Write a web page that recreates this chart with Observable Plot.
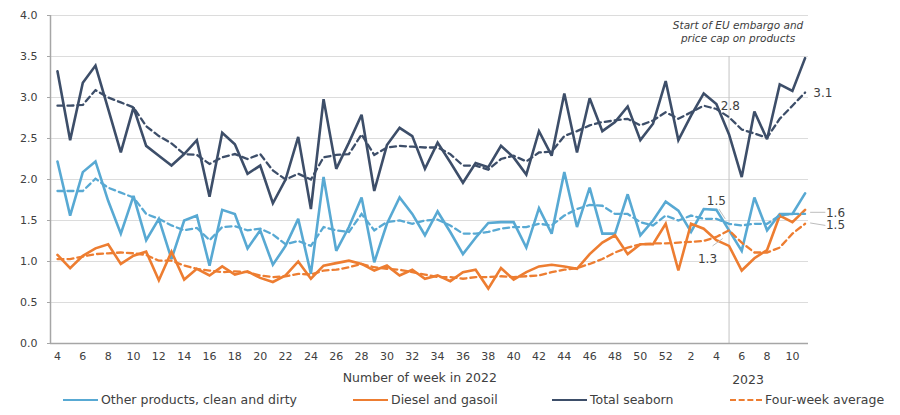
<!DOCTYPE html>
<html>
<head>
<meta charset="utf-8">
<script src="https://cdn.jsdelivr.net/npm/d3@7"></script>
<script src="https://cdn.jsdelivr.net/npm/@observablehq/plot@0.6"></script>
<style>
  body { margin: 0; background: #fff; font-family: "DejaVu Sans", sans-serif; }
  #wrap { width: 900px; height: 415px; position: relative; }
  #legend { position: absolute; left: 0; top: 387px; width: 900px; height: 28px; font-size: 12.5px; color: #404040; }
  .item { position: absolute; top: 5px; display: flex; align-items: center; white-space: nowrap; }
  .sw { width: 35px; height: 0; margin-right: 3px; }
</style>
</head>
<body>
<div id="wrap"><div id="chart"></div><div id="legend"></div></div>
<script>
// Week labels: 2022 weeks 4..52, then 2023 weeks 1..11
const weekLabels = [4,5,6,7,8,9,10,11,12,13,14,15,16,17,18,19,20,21,22,23,24,25,26,27,28,29,30,31,32,33,34,35,36,37,38,39,40,41,42,43,44,45,46,47,48,49,50,51,52,
  1,2,3,4,5,6,7,8,9,10,11];

const otherProducts = [2.22,1.56,2.09,2.22,1.74,1.34,1.80,1.26,1.52,1.03,1.50,1.56,0.95,1.63,1.58,
  1.16,1.38,0.96,1.19,1.52,0.85,2.03,1.13,1.42,1.78,0.99,1.46,1.78,1.58,1.32,
  1.61,1.36,1.09,1.29,1.47,1.48,1.48,1.17,1.65,1.34,2.09,1.42,1.90,1.34,1.34,
  1.82,1.32,1.50,1.73,1.62,1.36,1.64,1.63,1.38,1.13,1.78,1.38,1.58,1.58,1.83];
const otherAvg = [1.86,1.86,1.86,2.01,1.90,1.84,1.78,1.58,1.52,1.44,1.38,1.41,1.26,1.42,1.43,
  1.38,1.40,1.33,1.21,1.25,1.19,1.42,1.38,1.36,1.58,1.38,1.48,1.50,1.46,1.50,
  1.51,1.44,1.34,1.34,1.36,1.40,1.42,1.42,1.46,1.44,1.56,1.64,1.69,1.68,1.58,
  1.58,1.48,1.44,1.56,1.50,1.56,1.52,1.52,1.46,1.44,1.46,1.46,1.56,1.58,1.58];
const diesel = [1.08,0.92,1.07,1.16,1.21,0.97,1.07,1.12,0.77,1.12,0.78,0.91,0.83,0.94,0.84,
  0.88,0.80,0.75,0.83,1.00,0.79,0.95,0.98,1.01,0.97,0.89,0.95,0.83,0.90,0.79,
  0.83,0.76,0.87,0.90,0.67,0.92,0.78,0.87,0.94,0.96,0.94,0.91,1.09,1.23,1.32,
  1.09,1.21,1.21,1.46,0.89,1.46,1.40,1.26,1.19,0.89,1.04,1.14,1.56,1.48,1.63];
const dieselAvg = [1.03,1.03,1.06,1.09,1.10,1.11,1.10,1.08,1.01,1.01,0.95,0.91,0.89,0.87,0.88,
  0.87,0.83,0.81,0.82,0.85,0.84,0.89,0.90,0.93,0.97,0.93,0.91,0.90,0.87,0.84,
  0.81,0.81,0.79,0.81,0.81,0.82,0.81,0.82,0.83,0.87,0.90,0.92,0.97,1.03,1.11,
  1.17,1.21,1.22,1.22,1.23,1.24,1.25,1.30,1.38,1.23,1.11,1.11,1.17,1.34,1.46];
const totalSeaborn = [3.32,2.48,3.18,3.39,2.86,2.33,2.88,2.41,2.29,2.17,2.31,2.48,1.79,2.57,2.43,
  2.07,2.17,1.71,2.00,2.52,1.64,2.98,2.13,2.45,2.79,1.86,2.42,2.63,2.53,2.13,
  2.45,2.21,1.96,2.20,2.15,2.41,2.27,2.06,2.59,2.29,3.05,2.33,2.99,2.59,2.70,
  2.89,2.48,2.68,3.20,2.48,2.78,3.05,2.92,2.55,2.03,2.83,2.49,3.16,3.08,3.48];
const totalAvg = [2.90,2.90,2.91,3.09,3.00,2.94,2.88,2.65,2.53,2.44,2.31,2.30,2.19,2.27,2.31,
  2.25,2.31,2.11,2.00,2.07,2.00,2.27,2.30,2.31,2.55,2.30,2.39,2.41,2.40,2.39,
  2.39,2.31,2.17,2.17,2.12,2.25,2.29,2.22,2.33,2.34,2.53,2.59,2.66,2.70,2.72,
  2.74,2.66,2.72,2.82,2.74,2.82,2.90,2.86,2.76,2.61,2.56,2.51,2.74,2.90,3.06];

const yTicks = [0, 0.5, 1, 1.5, 2, 2.5, 3, 3.5, 4];
const xTickIdx = weekLabels.map((w, i) => i).filter(i => i % 2 === 0);
const embargoWeekIndex = 53; // week 5 of 2023
const embargoNote = "Start of EU embargo and\nprice cap on products";

const valueLabels = [
  {text: "2.8", x: 53.1, y: 2.90},
  {text: "3.1", x: 60.4, y: 3.05},
  {text: "1.5", x: 52.0, y: 1.74},
  {text: "1.3", x: 51.3, y: 1.03},
  {text: "1.6", x: 61.4, y: 1.59},
  {text: "1.5", x: 61.4, y: 1.44}
];
const leaders = [
  {x1: 52.2, y1: 1.64, x2: 52.7, y2: 1.52},
  {x1: 51.7, y1: 1.19, x2: 52.5, y2: 1.28},
  {x1: 59.4, y1: 1.60, x2: 60.6, y2: 1.60},
  {x1: 59.4, y1: 1.47, x2: 60.6, y2: 1.44}
];

const C = {other: "#58a9d3", diesel: "#ed7d31", total: "#3d4e69"};
const series = [
  {name: "Other products, clean and dirty", values: otherProducts, color: C.other, dashed: false},
  {name: "Diesel and gasoil", values: diesel, color: C.diesel, dashed: false},
  {name: "Total seaborn", values: totalSeaborn, color: C.total, dashed: false},
  {name: "Other avg", values: otherAvg, color: C.other, dashed: true},
  {name: "Diesel avg", values: dieselAvg, color: C.diesel, dashed: true},
  {name: "Total avg", values: totalAvg, color: C.total, dashed: true}
];
const toRows = s => s.values.map((v, i) => ({i, v}));

const xDomain = [-0.55, 59.27];

const lineMarks = series.map(s => Plot.line(toRows(s), {
  x: "i", y: "v", stroke: s.color,
  strokeWidth: s.dashed ? 2.3 : 2.6,
  strokeDasharray: s.dashed ? "6,4" : null,
  strokeLinejoin: "miter", strokeMiterlimit: 3
}));

const chart = Plot.plot({
  width: 900, height: 385,
  marginLeft: 50, marginRight: 92, marginTop: 15, marginBottom: 42,
  x: {domain: xDomain},
  y: {domain: [0, 4]},
  style: {fontFamily: "DejaVu Sans, sans-serif", fontSize: "11px", color: "#404040", background: "#fff"},
  marks: [
    Plot.gridY(yTicks, {stroke: "#dcdcdc", strokeOpacity: 1, strokeWidth: 1.2}),
    Plot.ruleX([embargoWeekIndex], {y1: 0, y2: 3.5, stroke: "#c4c4c4", strokeWidth: 1}),
    Plot.axisY(yTicks, {tickFormat: d3.format(".1f"), tickSize: 3, tickPadding: 10, label: null, stroke: "#a6a6a6", fill: "#404040"}),
    Plot.axisX(xTickIdx, {tickFormat: i => String(weekLabels[i]), tickSize: 0, tickPadding: 9, label: null, fill: "#404040"}),
    Plot.ruleX([xDomain[0]], {y1: 0, y2: 4, stroke: "#a6a6a6", strokeWidth: 1.5}),
    Plot.ruleY([0], {stroke: "#a6a6a6", strokeWidth: 1.5}),
    ...lineMarks,
    Plot.link(leaders, {x1: "x1", y1: "y1", x2: "x2", y2: "y2", stroke: "#bdbdbd", strokeWidth: 1}),
    Plot.text(valueLabels, {x: "x", y: "y", text: "text", fill: "#404040", fontSize: 12, textAnchor: "middle"}),
    Plot.text([embargoNote], {x: embargoWeekIndex, y: 3.81, dx: 9, text: d => d, fill: "#404040", fontSize: 10.5, fontStyle: "italic", textAnchor: "middle", lineHeight: 1.3}),
    Plot.text(["Number of week in 2022"], {x: 28.6, frameAnchor: "bottom", dy: 38, text: d => d, fill: "#404040", fontSize: 12.5}),
    Plot.text(["2023"], {x: 54.5, frameAnchor: "bottom", dy: 40, text: d => d, fill: "#404040", fontSize: 12.5})
  ]
});
document.getElementById("chart").appendChild(chart);

// Legend
const legendItems = [
  {label: "Other products, clean and dirty", color: C.other, dashed: false, left: 63},
  {label: "Diesel and gasoil", color: C.diesel, dashed: false, left: 353},
  {label: "Total seaborn", color: C.total, dashed: false, left: 552},
  {label: "Four-week average", color: C.diesel, dashed: true, left: 730}
];
const legend = document.getElementById("legend");
for (const it of legendItems) {
  const d = document.createElement("div");
  d.className = "item";
  d.style.left = it.left + "px";
  const sw = document.createElement("span");
  sw.className = "sw";
  sw.style.borderTop = `2.5px ${it.dashed ? "dashed" : "solid"} ${it.color}`;
  if (it.dashed) sw.style.width = "32px";
  const t = document.createElement("span");
  t.textContent = it.label;
  d.appendChild(sw); d.appendChild(t);
  legend.appendChild(d);
}
</script>
</body>
</html>
